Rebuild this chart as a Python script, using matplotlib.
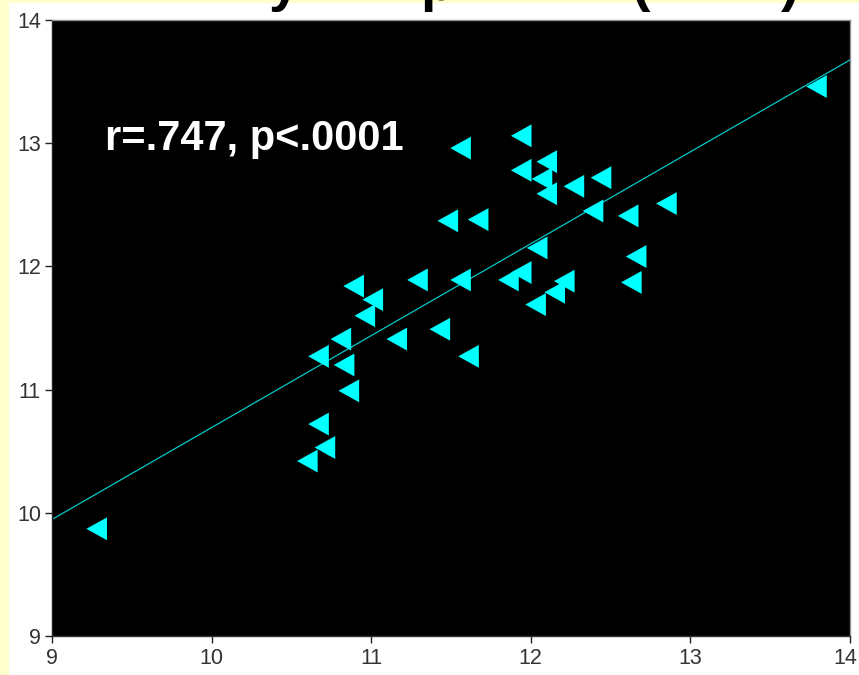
import numpy as np
import matplotlib
matplotlib.use('Agg')
import matplotlib.pyplot as plt
from matplotlib.patches import Rectangle
from matplotlib.transforms import ScaledTranslation

# values
x_vals = [9.28, 13.79, 11.94, 11.56, 11.94, 12.10, 12.07, 12.10, 12.27, 12.44,
          11.48, 11.67, 12.39, 12.61, 12.85, 12.04, 12.66, 12.63, 11.94, 11.86,
          11.56, 11.29, 10.89, 11.01, 10.96, 12.21, 12.15, 12.03, 11.43, 11.16,
          10.81, 10.67, 10.83, 11.61, 10.86, 10.67, 10.71, 10.60]
y_vals = [9.87, 13.46, 13.06, 12.96, 12.78, 12.85, 12.71, 12.59, 12.65, 12.72,
          12.37, 12.38, 12.45, 12.41, 12.51, 12.15, 12.08, 11.87, 11.95, 11.89,
          11.89, 11.89, 11.84, 11.73, 11.60, 11.88, 11.79, 11.69, 11.49, 11.41,
          11.41, 11.27, 11.20, 11.27, 10.99, 10.72, 10.53, 10.42]
fit_slope = 0.746
fit_intercept = 3.232
x_ticks = [9, 10, 11, 12, 13, 14]
y_ticks = [9, 10, 11, 12, 13, 14]
annotation = 'r=.747, p<.0001'
title_bits = [('y', 284), ('p', 437), ('(', 640), (')', 790)]

W, H = 859, 675
plt.rcParams['font.family'] = ['Liberation Sans', 'DejaVu Sans']
fig = plt.figure(figsize=(W / 100, H / 100), dpi=100, facecolor='white')

# pale yellow slide border on the left and top
fig.patches.append(Rectangle((0, 0), 9 / W, 1, transform=fig.transFigure,
                             facecolor='#FFFFCC', edgecolor='none', zorder=0))
fig.patches.append(Rectangle((0, 1 - 3 / H), 1, 3 / H, transform=fig.transFigure,
                             facecolor='#FFFFCC', edgecolor='none', zorder=0))

ax = fig.add_axes([52 / W, 1 - 636 / H, (850 - 52) / W, (636 - 20) / H])
ax.set_facecolor('black')

xs = np.array([x_ticks[0], x_ticks[-1]], dtype=float)
ax.plot(xs, fit_intercept + fit_slope * xs, color='#00C8C8', lw=0.9, zorder=2)

tri = [(-0.9, 0.0), (0.9, -1.0), (0.9, 1.0)]
ax.scatter(x_vals, y_vals, marker=tri, s=16.5 ** 2, color='#00FFFF',
           edgecolors='none', zorder=3)

ax.set_xlim(x_ticks[0], x_ticks[-1])
ax.set_ylim(y_ticks[0], y_ticks[-1])
ax.set_xticks(x_ticks)
ax.set_yticks(y_ticks)
ax.tick_params(direction='out', length=5, width=1, color='#222222',
               labelsize=15.5, labelcolor='#333333')
ax.tick_params(axis='x', pad=4)
ax.tick_params(axis='y', pad=3)
for side, col in [('top', '#909090'), ('right', '#909090'),
                  ('bottom', '#333333'), ('left', '#222222')]:
    ax.spines[side].set_color(col)
    ax.spines[side].set_linewidth(1)

# last x label sits tight against the right edge, nudge it in a little
last = ax.get_xticklabels()[-1]
last.set_transform(last.get_transform() + ScaledTranslation(-5 / 100, 0, fig.dpi_scale_trans))

ax.text((105 - 52) / 798, (636 - 150) / 616, annotation, transform=ax.transAxes,
        color='white', fontsize=30, fontweight='bold', va='baseline', ha='left')

# slide title above the chart, cut off by the top edge
for ch, px in title_bits:
    fig.text(px / W, 1.0, ch, fontsize=40, fontweight='bold', color='black',
             ha='center', va='baseline')

fig.savefig('out.png', dpi=100, facecolor=fig.get_facecolor())
